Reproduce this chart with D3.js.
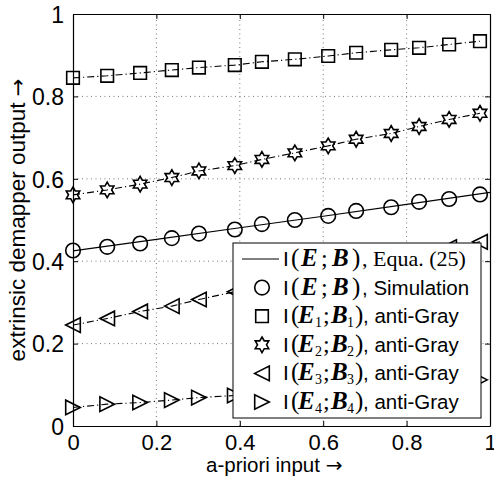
<!DOCTYPE html>
<html>
<head>
<meta charset="utf-8">
<script src="https://cdn.jsdelivr.net/npm/d3@7"></script>
<style>
  body { margin: 0; background: #fff; }
  svg { display: block; }
  text { fill: #000; }
</style>
</head>
<body>
<div id="chart"></div>
<script>
// a-priori input (x) for all simulated points
var apriori = [0, 0.082, 0.161, 0.237, 0.302, 0.388, 0.453, 0.532, 0.612, 0.679, 0.763, 0.830, 0.902, 0.976];

// I(E;B) from Equa. (25)
var equaX = [0, 0.2, 0.4, 0.6, 0.8, 1];
var equaY = [0.425, 0.453, 0.481, 0.509, 0.538, 0.567];

// simulated curves
var simTotal = [0.426, 0.435, 0.443, 0.456, 0.467, 0.477, 0.490, 0.500, 0.510, 0.522, 0.531, 0.544, 0.551, 0.562];
var bit1 = [0.845, 0.850, 0.857, 0.864, 0.870, 0.876, 0.884, 0.890, 0.898, 0.906, 0.913, 0.918, 0.926, 0.934];
var bit2 = [0.561, 0.573, 0.587, 0.603, 0.619, 0.632, 0.647, 0.663, 0.680, 0.696, 0.710, 0.727, 0.744, 0.759];
var bit3 = [0.245, 0.261, 0.278, 0.291, 0.307, 0.326, 0.340, 0.356, 0.372, 0.388, 0.405, 0.420, 0.434, 0.447];
var bit4 = [0.045, 0.053, 0.057, 0.063, 0.069, 0.074, 0.078, 0.082, 0.087, 0.091, 0.097, 0.102, 0.107, 0.112];

var tickVals = [0, 0.2, 0.4, 0.6, 0.8, 1];
var tickLabels = ["0", "0.2", "0.4", "0.6", "0.8", "1"];

var legendSubs = ["", "", "1", "2", "3", "4"];
var legendTails = [", Equa. (25)", ", Simulation", ", anti-Gray", ", anti-Gray", ", anti-Gray", ", anti-Gray"];

var W = 494, H = 477;
var sans = "'Liberation Sans', Arial, Helvetica, sans-serif";
var serif = "'Liberation Serif', 'Times New Roman', serif";
var arrowFont = "'DejaVu Sans', sans-serif";

var x = d3.scaleLinear().domain([0, 1]).range([73, 490]);
var y = d3.scaleLinear().domain([0, 1]).range([426, 14]);

var svg = d3.select("#chart").append("svg")
  .attr("width", W)
  .attr("height", H);

// custom marker shapes (r = half size)
var markerShapes = {
  circle: function(ctx, r) { ctx.moveTo(r, 0); ctx.arc(0, 0, r, 0, 2 * Math.PI); },
  square: function(ctx, r) { ctx.rect(-r, -r, 2 * r, 2 * r); },
  hexagram: function(ctx, r) {
    var i, a, rr;
    for (i = 0; i < 12; i++) {
      a = -Math.PI / 2 + i * Math.PI / 6;
      rr = (i % 2 == 0) ? r : r * 0.577;
      if (i == 0) ctx.moveTo(rr * Math.cos(a), rr * Math.sin(a));
      else ctx.lineTo(rr * Math.cos(a), rr * Math.sin(a));
    }
    ctx.closePath();
  },
  left: function(ctx, r) { ctx.moveTo(-r, 0); ctx.lineTo(r, -r); ctx.lineTo(r, r); ctx.closePath(); },
  right: function(ctx, r) { ctx.moveTo(r, 0); ctx.lineTo(-r, -r); ctx.lineTo(-r, r); ctx.closePath(); }
};

function markerPath(shape, r) {
  return d3.symbol().type({ draw: function(ctx) { markerShapes[shape](ctx, r); } }).size(1)();
}

// grid
var grid = svg.append("g").attr("class", "grid");
grid.selectAll("line.gx").data(tickVals.slice(1, -1)).enter().append("line")
  .attr("x1", function(d) { return x(d); }).attr("x2", function(d) { return x(d); })
  .attr("y1", y(0)).attr("y2", y(1))
  .attr("stroke", "#555").attr("stroke-width", 0.8).attr("stroke-dasharray", "1,3.5");
grid.selectAll("line.gy").data(tickVals.slice(1, -1)).enter().append("line")
  .attr("y1", function(d) { return y(d); }).attr("y2", function(d) { return y(d); })
  .attr("x1", x(0)).attr("x2", x(1))
  .attr("stroke", "#555").attr("stroke-width", 0.8).attr("stroke-dasharray", "1,3.5");

// axes (inward ticks on all sides)
var xAxis = d3.axisBottom(x).tickValues(tickVals).tickSizeInner(-5).tickSizeOuter(0)
  .tickFormat(function(d, i) { return tickLabels[i]; }).tickPadding(8);
var yAxis = d3.axisLeft(y).tickValues(tickVals).tickSizeInner(-5).tickSizeOuter(0)
  .tickFormat(function(d, i) { return tickLabels[i]; }).tickPadding(9);

var gx = svg.append("g").attr("transform", "translate(0," + y(0) + ")").call(xAxis);
var gy = svg.append("g").attr("transform", "translate(" + x(0) + ",0)").call(yAxis);
svg.append("g").attr("transform", "translate(0," + y(1) + ")")
  .call(d3.axisTop(x).tickValues(tickVals).tickSizeInner(-5).tickSizeOuter(0).tickFormat(""));
svg.append("g").attr("transform", "translate(" + x(1) + ",0)")
  .call(d3.axisRight(y).tickValues(tickVals).tickSizeInner(-5).tickSizeOuter(0).tickFormat(""));

svg.selectAll(".domain").attr("stroke", "#000").attr("stroke-width", 1.2);
svg.selectAll(".tick line").attr("stroke", "#000");
gx.selectAll("text").attr("font-family", sans).attr("font-size", 22).attr("dy", "0.71em");
gy.selectAll("text").attr("font-family", sans).attr("font-size", 23).attr("dy", "0.36em");

// axis labels
var xl = svg.append("text")
  .attr("x", 206).attr("y", 472)
  .attr("font-family", sans).attr("font-size", 20.5)
  .text("a-priori input ");
xl.append("tspan").attr("font-family", arrowFont).attr("font-size", 20).text("\u2192");

var yl = svg.append("text")
  .attr("transform", "translate(25,220) rotate(-90)")
  .attr("text-anchor", "middle")
  .attr("font-family", sans).attr("font-size", 22.5)
  .text("extrinsic demapper output ");
yl.append("tspan").attr("font-family", arrowFont).attr("font-size", 21).text("\u2192");

// curves
var plot = svg.append("g");
var line = d3.line().x(function(d) { return x(d[0]); }).y(function(d) { return y(d[1]); });

plot.append("path")
  .datum(d3.zip(equaX, equaY))
  .attr("d", line)
  .attr("fill", "none").attr("stroke", "#000").attr("stroke-width", 1.1);

var series = [
  { vals: simTotal, shape: "circle", r: 7.3, dashed: false },
  { vals: bit1, shape: "square", r: 6.3, dashed: true },
  { vals: bit2, shape: "hexagram", r: 7.8, dashed: true },
  { vals: bit3, shape: "left", r: 7.3, dashed: true },
  { vals: bit4, shape: "right", r: 7.3, dashed: true }
];

series.forEach(function(s) {
  var pts = d3.zip(apriori, s.vals);
  if (s.dashed) {
    plot.append("path")
      .datum(pts)
      .attr("d", line)
      .attr("fill", "none").attr("stroke", "#000").attr("stroke-width", 1.1)
      .attr("stroke-dasharray", "7,3,1.2,3");
  }
  plot.selectAll(null).data(pts).enter().append("path")
    .attr("transform", function(d) { return "translate(" + x(d[0]) + "," + y(d[1]) + ")"; })
    .attr("d", markerPath(s.shape, s.r))
    .attr("fill", "none").attr("stroke", "#000").attr("stroke-width", 1.6);
});

// legend
var lg = svg.append("g");
lg.append("rect")
  .attr("x", 233).attr("y", 243).attr("width", 248).attr("height", 175)
  .attr("fill", "#fff").attr("stroke", "#000").attr("stroke-width", 1);

var legendShapes = [null, "circle", "square", "hexagram", "left", "right"];
var legendR = [0, 7.3, 6.3, 7.8, 7.3, 7.3];
var rowY = d3.scalePoint().domain(d3.range(6)).range([259, 402]);

function addPart(t, txt, xx, font, size, opts) {
  var sp = t.append("tspan").attr("x", xx).attr("font-family", font).attr("font-size", size).text(txt);
  if (opts && opts.bi) sp.attr("font-weight", "bold").attr("font-style", "italic");
  if (opts && opts.dy) sp.attr("dy", opts.dy);
  return sp;
}

legendShapes.forEach(function(shape, i) {
  var cy = rowY(i);
  var sub = legendSubs[i];
  if (shape == null) {
    lg.append("line").attr("x1", 242).attr("x2", 279).attr("y1", cy).attr("y2", cy)
      .attr("stroke", "#000").attr("stroke-width", 1.1);
  } else {
    lg.append("path")
      .attr("transform", "translate(262," + cy + ")")
      .attr("d", markerPath(shape, legendR[i]))
      .attr("fill", "none").attr("stroke", "#000").attr("stroke-width", 1.6);
  }
  var t = lg.append("text").attr("y", cy + 7);
  addPart(t, "I", 283, sans, 21);
  if (sub) {
    addPart(t, "(", 291, serif, 25);
    addPart(t, "E", 298, serif, 25, { bi: true });
    addPart(t, sub, 315, serif, 14, { dy: 4 });
    addPart(t, ";", 323, serif, 24, { dy: -4 });
    addPart(t, "B", 331, serif, 25, { bi: true });
    addPart(t, sub, 347, serif, 14, { dy: 4 });
    addPart(t, ")", 355, serif, 25, { dy: -4 });
    addPart(t, legendTails[i], 363, sans, 20.5);
  } else {
    addPart(t, "(", 291, serif, 25);
    addPart(t, "E", 301, serif, 25, { bi: true });
    addPart(t, ";", 321, serif, 24);
    addPart(t, "B", 332, serif, 25, { bi: true });
    addPart(t, ")", 352, serif, 25);
    addPart(t, legendTails[i], 362, i == 0 ? serif : sans, i == 0 ? 22 : 20.5);
  }
});
</script>
</body>
</html>
